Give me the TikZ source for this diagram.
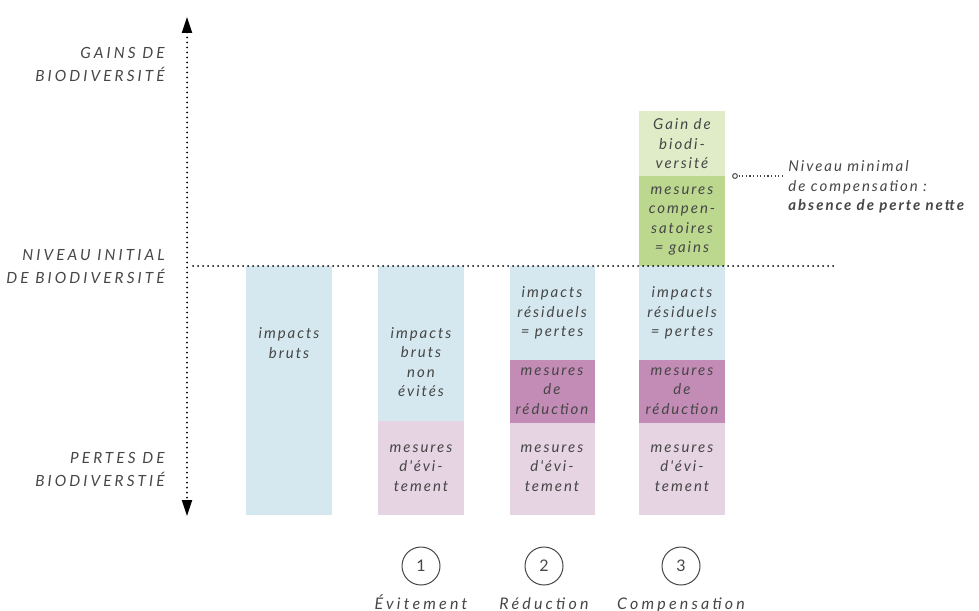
\documentclass[tikz,border=0pt]{standalone}
\usepackage{fontspec}
\setmainfont{Lato}[Ligatures=TeXOff]
\usetikzlibrary{arrows.meta}
\definecolor{gris}{HTML}{464646}
\definecolor{bleu}{HTML}{D5E8EF}
\definecolor{rose}{HTML}{E6D4E3}
\definecolor{mauve}{HTML}{C38CB6}
\definecolor{vertclair}{HTML}{E0ECC8}
\definecolor{vert}{HTML}{BCD88F}
\tikzset{
	txt/.style={align=center,text=gris,inner sep=0pt,font=\fontsize{7.5}{9.75}\selectfont\itshape\addfontfeature{LetterSpace=13}},
	axe/.style={align=right,text=gris,inner sep=0pt,font=\fontsize{7.7}{11.5}\selectfont\itshape\addfontfeature{LetterSpace=20}},
	pointille/.style={line width=1pt,line cap=round,dash pattern=on 0pt off 2.5pt},
	num/.style={circle,draw=gris,line width=.5pt,minimum size=19pt,inner sep=0pt,text=gris,font=\fontsize{8}{9}\selectfont},
	etape/.style={text=gris,inner sep=0pt,font=\fontsize{8}{9}\selectfont\itshape\addfontfeature{LetterSpace=20}}
}
\begin{document}
\begin{tikzpicture}[x=.5pt,y=-.5pt,line join=round]
	\useasboundingbox (0,0) rectangle (979,610);
	\def\base{266} \def\sol{515}
	\fill[bleu] (246,\base) rectangle (332,\sol);
	\fill[bleu] (378,\base) rectangle (464,421);
	\fill[rose] (378,421) rectangle (464,\sol);
	\fill[bleu] (510,\base) rectangle (595,360);
	\fill[mauve] (510,360) rectangle (595,423);
	\fill[rose] (510,423) rectangle (595,\sol);
	\fill[vertclair] (639,111) rectangle (725,176);
	\fill[vert] (639,176) rectangle (725,\base);
	\fill[bleu] (639,\base) rectangle (725,360);
	\fill[mauve] (639,360) rectangle (725,423);
	\fill[rose] (639,423) rectangle (725,\sol);
	\draw[pointille,{Triangle[length=8pt,width=5pt]}-{Triangle[length=8pt,width=5pt]}] (187,17)--(187,516);
	\draw[pointille] (193,\base)--(834,\base);
	\node[axe,anchor=east] (gains) at (165,64) {GAINS DE\\BIODIVERSITÉ};
	\node[axe,anchor=east] (initial) at (165,267) {NIVEAU INITIAL\\DE BIODIVERSITÉ};
	\node[axe,anchor=east] (pertes) at (165,469) {PERTES DE\\BIODIVERSTIÉ};
	\node[txt] (brut) at (289,343) {impacts\\bruts};
	\node[txt] (nonevit) at (421,362) {impacts\\bruts\\non\\évités};
	\node[txt] (evit1) at (421,468) {mesures\\d'évi-\\tement};
	\node[txt] (resid2) at (552,313) {impacts\\résiduels\\= pertes};
	\node[txt] (reduc2) at (552,391) {mesures\\de\\réduction};
	\node[txt] (evit2) at (552,468) {mesures\\d'évi-\\tement};
	\node[txt] (gain) at (682,144) {Gain de\\biodi-\\versité};
	\node[txt] (compens) at (682,221) {mesures\\compen-\\satoires\\= gains};
	\node[txt] (resid3) at (682,313) {impacts\\résiduels\\= pertes};
	\node[txt] (reduc3) at (682,391) {mesures\\de\\réduction};
	\node[txt] (evit3) at (682,468) {mesures\\d'évi-\\tement};
	\node[txt,align=left,anchor=west,inner xsep=3pt] (niveau) at (782,187)
		{Niveau minimal\\de compensation :\\\textbf{absence de perte nette}};
	\coordinate (repere) at (735,176);
	\draw[gris,line width=.6pt,dash pattern=on .6pt off 1.2pt] (repere)--(niveau.west |- repere);
	\draw[gris,line width=.5pt,fill=white] (repere) circle (1.2pt);
	\node[num] (n1) at (421,566) {1};
	\node[num] (n2) at (544,566) {2};
	\node[num] (n3) at (681,566) {3};
	\node[etape,anchor=base] (evitement) at (n1 |- 0,609) {Évitement};
	\node[etape,anchor=base] (reduction) at (n2 |- 0,609) {Réduction};
	\node[etape,anchor=base] (compensation) at (n3 |- 0,609) {Compensation};
\end{tikzpicture}
\end{document}
